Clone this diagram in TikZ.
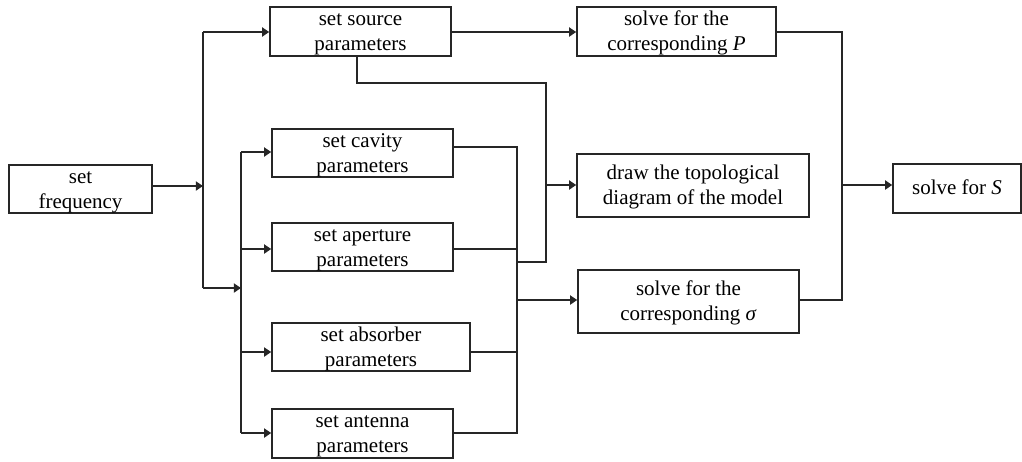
\documentclass[tikz,border=0pt]{standalone}
\usepackage{fontspec}
\setmainfont{Liberation Serif}
\usetikzlibrary{arrows.meta,calc}
\newcommand\mytop{\rule{0pt}{9.1pt}}
\newcommand\mybot{\rule[-2.3pt]{0pt}{2.3pt}}
\begin{document}
\begin{tikzpicture}[x=0.5pt,y=-0.5pt,
  box/.style={draw=black!85, line width=0.75pt, inner xsep=0pt, inner ysep=-0.5pt, align=center,
    font=\fontsize{10.5}{12.5}\selectfont},
  sz/.style 2 args={minimum width=#1*0.5pt, minimum height=#2*0.5pt},
  conn/.style={line width=0.75pt, draw=black!85},
  arr/.style={conn, -{Triangle[length=3.6pt,width=4.6pt]}}]
\useasboundingbox (0,0) rectangle (1022,461);
% boxes
\node[box, sz={143}{48}] (freq) at (80.5,189) {\mytop set\\frequency\mybot};
\node[box, sz={181}{49}] (src)  at (360.5,31.5) {\mytop set source\\parameters\mybot};
\node[box, sz={199}{49}] (P)    at (676.5,31.5) {\mytop solve for the\\corresponding \textit{P}\mybot};
\node[box, sz={181}{48}] (cav)  at (362.5,153) {\mytop set cavity\\parameters\mybot};
\node[box, sz={181}{48}] (apt)  at (362.5,247) {\mytop set aperture\\parameters\mybot};
\node[box, sz={198}{48}] (abs)  at (371,347) {\mytop set absorber\\parameters\mybot};
\node[box, sz={181}{49}] (ant)  at (362.5,433.5) {\mytop set antenna\\parameters\mybot};
\node[box, sz={232}{63}] (drw)  at (693,185.5) {\mytop draw the topological\\diagram of the model\mybot};
\node[box, sz={221}{63}] (sig)  at (688.5,301.5) {\mytop solve for the\\corresponding \textit{σ}\mybot};
\node[box, sz={128}{49}] (S)    at (957,188.5) {solve for \textit{S}\rule[-1pt]{0pt}{1pt}};
% coordinates
\coordinate (j1) at (203,186);
\coordinate (t1) at (203,32);
\coordinate (j1b) at (203,288);
\coordinate (j2) at (241,288);
\coordinate (c1) at (241,152);
\coordinate (c2) at (241,249);
\coordinate (c3) at (241,352);
\coordinate (c4) at (241,433);
\coordinate (r1) at (517,147);
\coordinate (r2) at (517,249);
\coordinate (r3) at (517,352);
\coordinate (r4) at (517,433);
\coordinate (rs) at (517,300);
\coordinate (rj) at (517,262);
\coordinate (s0) at (357,83);
\coordinate (q1) at (546,83);
\coordinate (q2) at (546,262);
\coordinate (qd) at (546,185);
\coordinate (p1) at (842,32);
\coordinate (p2) at (842,300);
\coordinate (p3) at (842,185);
% left buses
\draw[arr] (freq.east |- j1) -- (j1);
\draw[conn] (t1) -- (j1b);
\draw[arr] (t1) -- (t1 -| src.west);
\draw[arr] (j1b) -- (j2);
\draw[conn] (c1) -- (c4);
\draw[arr] (c1) -- (c1 -| cav.west);
\draw[arr] (c2) -- (c2 -| apt.west);
\draw[arr] (c3) -- (c3 -| abs.west);
\draw[arr] (c4) -- (c4 -| ant.west);
% source to P
\draw[arr] (t1 -| src.east) -- (t1 -| P.west);
% right bus of parameters
\draw[conn] (r1 -| cav.east) -- (r1) -- (r4) -- (r4 -| ant.east);
\draw[conn] (r2 -| apt.east) -- (r2);
\draw[conn] (r3 -| abs.east) -- (r3);
\draw[conn] (s0 |- src.south) -- (s0) -- (q1) -- (q2) -- (rj);
\draw[arr] (qd) -- (qd -| drw.west);
\draw[arr] (rs) -- (rs -| sig.west);
% to S
\draw[conn] (p1 -| P.east) -- (p1) -- (p2) -- (p2 -| sig.east);
\draw[arr] (p3) -- (p3 -| S.west);
\end{tikzpicture}
\end{document}
